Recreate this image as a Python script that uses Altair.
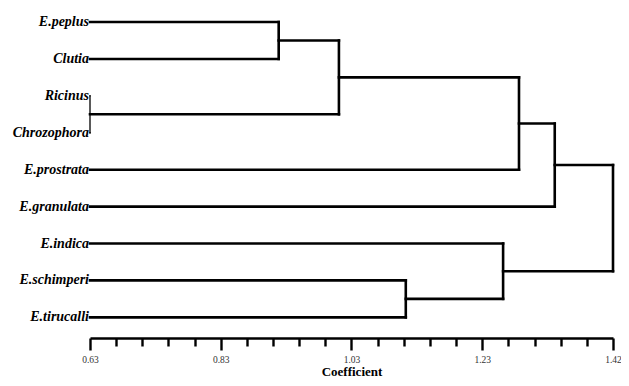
import altair as alt
import pandas as pd

# Leaves (top to bottom) and merge steps: (child_a, child_b, coefficient)
leaves = ["E.peplus", "Clutia", "Ricinus", "Chrozophora", "E.prostrata",
          "E.granulata", "E.indica", "E.schimperi", "E.tirucalli"]
merge_a = [0, 2, 9, 11, 12, 7, 6, 13]
merge_b = [1, 3, 10, 4, 5, 8, 14, 15]
merge_h = [0.915, 0.63, 1.006, 1.278, 1.332, 1.107, 1.254, 1.42]

x_min, x_max = 0.63, 1.42
major_vals = [0.63, 0.8275, 1.025, 1.2225, 1.42]
major_labels = ["0.63", "0.83", "1.03", "1.23", "1.42"]
tick_vals = [round(x_min + k * (x_max - x_min) / 20, 5) for k in range(21)]

SERIF = "Liberation Serif"

# build node positions
node_x = {i: x_min for i in range(len(leaves))}
node_y = {i: float(i) for i in range(len(leaves))}
segs = []
nid = len(leaves)
for a, b, h in zip(merge_a, merge_b, merge_h):
    for c in (a, b):
        segs.append({"x": node_x[c], "x2": h, "y": node_y[c], "y2": node_y[c]})
    segs.append({"x": h, "x2": h, "y": node_y[a], "y2": node_y[b]})
    node_x[nid] = h
    node_y[nid] = (node_y[a] + node_y[b]) / 2
    nid += 1
seg_df = pd.DataFrame(segs)
seg_df["w"] = [1.3 if (r.x2 <= x_min + 1e-9) else 2.6 for r in seg_df.itertuples()]
leaf_df = pd.DataFrame({"name": leaves, "x": [x_min] * len(leaves),
                        "y": list(range(len(leaves)))})

label_expr = " : ".join(
    f"abs(datum.value - {v}) < 0.001 ? '{l}'" for v, l in zip(major_vals, major_labels)
) + " : ''"
major_test = " || ".join(f"abs(datum.value - {v}) < 0.001" for v in major_vals)

xscale = alt.Scale(domain=[x_min, x_max], nice=False, zero=False)
yscale = alt.Scale(domain=[-0.38, 8.56], reverse=True, nice=False, zero=False)

lines = alt.Chart(seg_df).mark_rule(color="black", strokeCap="square").encode(
    x=alt.X("x:Q", scale=xscale, title="Coefficient",
            axis=alt.Axis(values=tick_vals, tickCount=40, labelExpr=label_expr, grid=False,
                          labelOverlap=False,
                          domainColor="black", domainWidth=2.6,
                          tickColor="black", tickWidth=2.4,
                          tickSize={"condition": {"test": major_test, "value": 12}, "value": 8},
                          labelFont=SERIF, labelFontSize=9.5, labelColor="#333",
                          labelPadding=4, labelFlush=False,
                          titleFont=SERIF, titleFontSize=13, titleFontWeight="bold",
                          titleColor="black", titlePadding=2)),
    x2="x2:Q",
    y=alt.Y("y:Q", scale=yscale, axis=None),
    y2="y2:Q",
    strokeWidth=alt.StrokeWidth("w:Q", scale=None, legend=None),
)

labels = alt.Chart(leaf_df).mark_text(
    align="right", baseline="middle", dx=-1, font=SERIF,
    fontSize=14, fontStyle="italic", fontWeight="bold", color="black"
).encode(x=alt.X("x:Q", scale=xscale), y=alt.Y("y:Q", scale=yscale), text="name:N")

chart = alt.layer(lines, labels).properties(
    width=523, height=330,
    autosize=alt.AutoSizeParams(type="none"),
    padding={"left": 82, "top": 0, "right": 8, "bottom": 40},
).configure(background="white").configure_view(stroke=None)

chart.save("out.html", embed_options={"renderer": "svg", "actions": False})
